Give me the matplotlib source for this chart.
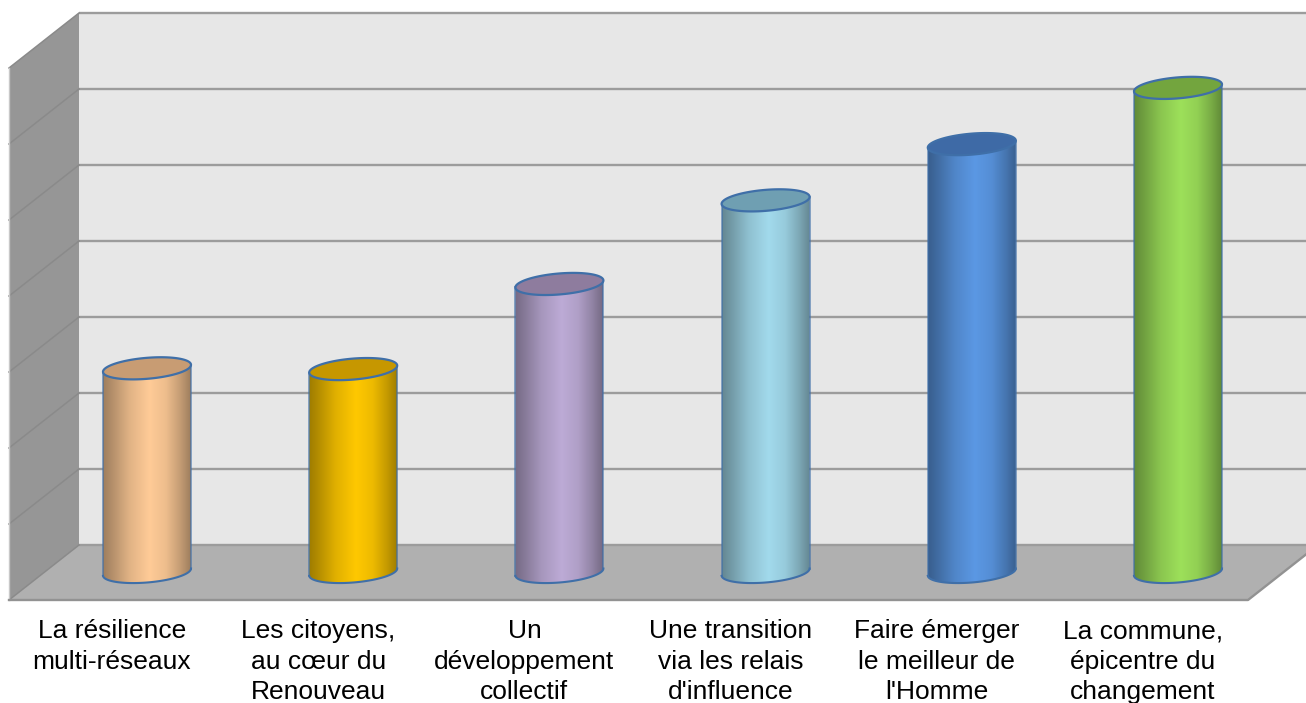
import numpy as np
import matplotlib
matplotlib.use("Agg")
import matplotlib.pyplot as plt
from matplotlib.patches import Polygon, PathPatch
from matplotlib.path import Path
from matplotlib.colors import to_rgb

plt.rcParams['font.family'] = ['Liberation Sans', 'DejaVu Sans']

# ---- data ----
categories = ["La résilience\nmulti-réseaux",
              "Les citoyens,\nau cœur du\nRenouveau",
              "Un\ndéveloppement\ncollectif",
              "Une transition\nvia les relais\nd'influence",
              "Faire émerger\nle meilleur de\nl'Homme",
              "La commune,\népicentre du\nchangement"]
values = [2.68, 2.67, 3.79, 4.89, 5.63, 6.37]
body_colors = ["#FFCB97", "#FFC800", "#BDABD6", "#A2DAEC", "#5B98E4", "#9DE05A"]
cap_colors = ["#C89C73", "#C69700", "#8E7C9E", "#6F9FB2", "#3E6AA6", "#73A53E"]
grid_levels = [0, 1, 2, 3, 4, 5, 6, 7]

W, H = 1306, 703
fig = plt.figure(figsize=(W / 100, H / 100), dpi=100, facecolor="white")

# ---- 3D box scenery, in pixel coordinates ----
bg = fig.add_axes([0, 0, 1, 1], zorder=0)
bg.set_xlim(0, W)
bg.set_ylim(H, 0)
bg.axis("off")
back_l, depth_x, depth_y = 79, 70, 55
floor_back = 545
step = 76
top_back = floor_back - step * max(grid_levels)
grid_col = "#9C9C9C"

bg.add_patch(Polygon([(back_l, top_back), (W, top_back), (W, floor_back), (back_l, floor_back)],
                     fc="#E7E7E7", ec="none"))
bg.add_patch(Polygon([(back_l, top_back), (back_l, floor_back), (back_l - depth_x, floor_back + depth_y),
                      (back_l - depth_x, top_back + depth_y)], fc="#969696", ec="none"))
bg.add_patch(Polygon([(back_l, floor_back), (W + 12, floor_back), (W + 12 - depth_x, floor_back + depth_y),
                      (back_l - depth_x, floor_back + depth_y)], fc="#B0B0B0", ec="none"))
for k in grid_levels:
    y = floor_back - step * k
    bg.plot([back_l, W], [y, y], color=grid_col, lw=1.7, solid_capstyle="butt")
    bg.plot([back_l, back_l - depth_x], [y, y + depth_y], color="#8A8A8A", lw=1.1)
bg.plot([back_l - depth_x, back_l - depth_x], [top_back + depth_y, floor_back + depth_y],
        color="#C8C8C8", lw=1.0)
bg.plot([back_l - depth_x, W + 12 - depth_x, W + 12], [floor_back + depth_y, floor_back + depth_y, floor_back],
        color="#929292", lw=1.7)

# ---- cylinders, on category / value scales ----
base_px, front_px = 572, 600
x0_px, cat_px = 147, 206.2
ax = fig.add_axes([0, (H - front_px) / H, 1, front_px / H], zorder=1)
ax.patch.set_visible(False)
xlim = (-x0_px / cat_px, (W - x0_px) / cat_px)
ylim = ((base_px - front_px) / step, base_px / step)

half_w = 44 / cat_px
tilt = 3.5 / step
round_h = 10.5 / step
t = np.linspace(0, 2 * np.pi, 181)
edge_col = "#3F6FA8"
profile_x = [0, 0.12, 0.3, 0.53, 0.72, 0.88, 1]
profile_v = [0.62, 0.72, 0.88, 1.0, 0.93, 0.77, 0.62]
ramp = np.interp(np.linspace(0, 1, 200), profile_x, profile_v)

for i, v in enumerate(values):
    ex = i + half_w * np.cos(t)
    rel = tilt * np.cos(t) + round_h * np.sin(t)
    lower = np.sin(t) < 0
    order = np.argsort(ex[lower])
    bx, by = ex[lower][order], rel[lower][order]
    # outline of the side: from top-left down, along the base arc, up to top-right
    sx = np.r_[i - half_w, bx, i + half_w]
    sy = np.r_[v - tilt, by, v + tilt]
    verts = np.c_[sx, sy]
    body = Path(np.vstack([verts, verts[0]]), closed=True)
    img = np.outer(ramp, to_rgb(body_colors[i])).reshape(1, 200, 3)
    im = ax.imshow(img, extent=(i - half_w, i + half_w, by.min() - .05, v + .2),
                   aspect="auto", zorder=2, interpolation="bilinear")
    im.set_clip_path(PathPatch(body, transform=ax.transData))
    ax.plot(sx[1:-1], sy[1:-1], color=edge_col, lw=1.5, zorder=3)
    ax.plot([sx[0], sx[0]], [sy[0], sy[1]], color=edge_col, lw=1.4, alpha=0.6, zorder=3)
    ax.plot([sx[-1], sx[-1]], [sy[-1], sy[-2]], color=edge_col, lw=1.4, alpha=0.6, zorder=3)
    ax.fill(ex, v + rel, fc=cap_colors[i], ec=edge_col, lw=1.6, zorder=4)

ax.set_xlim(*xlim)
ax.set_ylim(*ylim)
for s in ax.spines.values():
    s.set_visible(False)
ax.set_yticks([])
ax.set_xticks(np.arange(len(categories)) - 35 / cat_px, categories)
ax.tick_params(axis="x", length=0, pad=14, labelsize=19)
for lab in ax.get_xticklabels():
    lab.set_linespacing(1.33)
    lab.set_color("black")

fig.savefig("out.png", dpi=100, facecolor="white")
